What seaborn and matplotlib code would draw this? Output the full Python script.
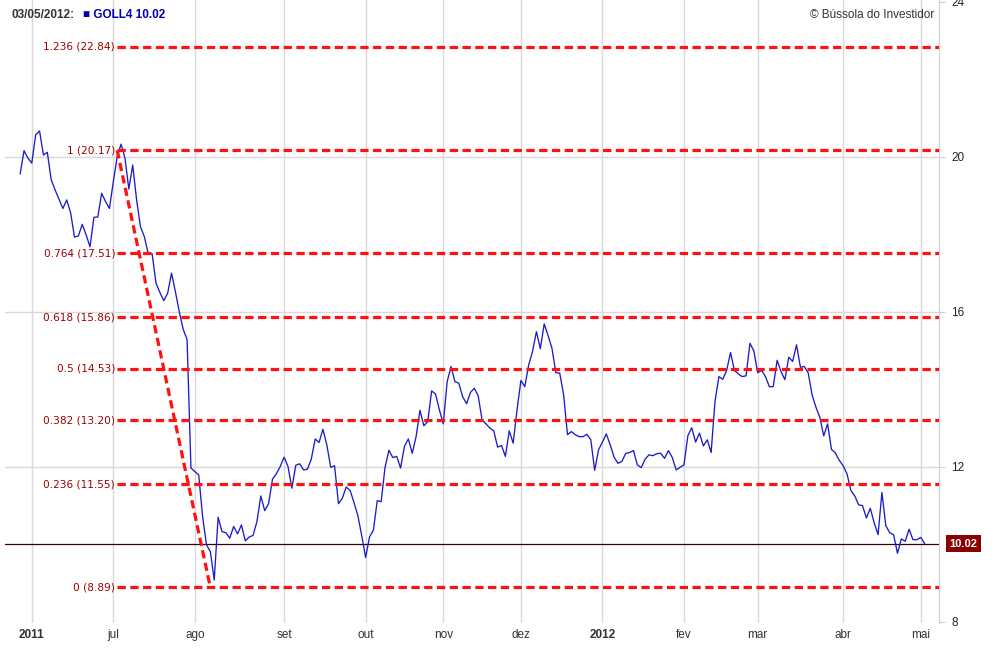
import numpy as np
import pandas as pd
import matplotlib
matplotlib.use("Agg")
import matplotlib.pyplot as plt
import seaborn as sns

# ---------------- data ----------------
holidays = ["2011-06-23", "2011-09-07", "2011-10-12", "2011-11-02", "2011-11-15",
            "2011-12-30", "2012-01-25", "2012-02-20", "2012-02-21", "2012-04-06",
            "2012-05-01"]
start_date = "2011-05-27"
end_date = "2012-05-03"

prices = [
    19.56, 20.16, 19.97, 19.84, 20.57, 20.67, 20.05, 20.12, 19.41, 19.15,
    18.91, 18.67, 18.89, 18.56, 17.93, 17.96, 18.26, 17.99, 17.68, 18.44,
    18.45, 19.06, 18.85, 18.67, 19.36, 20.01, 20.33, 19.97, 19.17, 19.79,
    18.89, 18.20, 17.94, 17.50, 17.50, 16.74, 16.50, 16.29, 16.48, 17.00,
    16.52, 16.00, 15.55, 15.29, 11.97, 11.88, 11.79, 10.72, 9.99, 9.81,
    9.08, 10.70, 10.33, 10.30, 10.16, 10.46, 10.27, 10.50, 10.09, 10.19,
    10.23, 10.59, 11.25, 10.87, 11.05, 11.68, 11.82, 12.01, 12.25, 12.01,
    11.45, 12.04, 12.08, 11.92, 11.94, 12.20, 12.72, 12.63, 12.97, 12.57,
    11.99, 12.03, 11.05, 11.19, 11.48, 11.39, 11.08, 10.74, 10.22, 9.66,
    10.19, 10.37, 11.13, 11.10, 11.99, 12.43, 12.24, 12.27, 11.97, 12.53,
    12.72, 12.35, 12.78, 13.46, 13.06, 13.17, 13.96, 13.88, 13.47, 13.11,
    14.20, 14.59, 14.20, 14.16, 13.81, 13.63, 13.92, 14.03, 13.83, 13.21,
    13.11, 13.00, 12.93, 12.51, 12.55, 12.27, 12.93, 12.61, 13.47, 14.23,
    14.07, 14.63, 14.98, 15.49, 15.05, 15.69, 15.39, 15.06, 14.43, 14.42,
    13.86, 12.83, 12.91, 12.83, 12.78, 12.78, 12.84, 12.70, 11.91, 12.44,
    12.64, 12.85, 12.57, 12.25, 12.09, 12.14, 12.35, 12.37, 12.42, 12.05,
    11.98, 12.20, 12.31, 12.29, 12.34, 12.35, 12.22, 12.42, 12.24, 11.92,
    11.99, 12.05, 12.80, 13.01, 12.64, 12.87, 12.54, 12.70, 12.37, 13.69,
    14.33, 14.26, 14.49, 14.95, 14.49, 14.40, 14.33, 14.35, 15.19, 14.99,
    14.43, 14.49, 14.33, 14.07, 14.07, 14.75, 14.46, 14.25, 14.83, 14.72,
    15.15, 14.57, 14.59, 14.43, 13.86, 13.54, 13.28, 12.80, 13.11, 12.45,
    12.36, 12.17, 12.03, 11.82, 11.39, 11.25, 11.02, 11.00, 10.68, 10.93,
    10.56, 10.25, 11.34, 10.48, 10.30, 10.25, 9.77, 10.14, 10.08, 10.39,
    10.12, 10.12, 10.18, 10.02,
]

month_labels = ["2011", "jul", "ago", "set", "out", "nov", "dez",
                "2012", "fev", "mar", "abr", "mai"]
year_labels = ["2011", "2012"]

fib_ratios = [1.236, 1, 0.764, 0.618, 0.5, 0.382, 0.236, 0]
fib_values = [22.84, 20.17, 17.51, 15.86, 14.53, 13.20, 11.55, 8.89]
swing_high_date = "2011-07-04"
swing_low_date = "2011-08-05"

y_ticks = [8, 12, 16, 20, 24]
y_grid = [12, 16, 20]
ticker = "GOLL4"
last_date_label = "03/05/2012:"
last_price = 10.02
credit = "© Bússola do Investidor"

# ---------------- build frame ----------------
dates = pd.bdate_range(start_date, end_date, freq="C", holidays=holidays)
n = min(len(dates), len(prices))
df = pd.DataFrame({"date": dates[:n], "price": prices[:n]})
df["idx"] = np.arange(n)

# first trading day of each month (from June on)
first_days = df.groupby(df["date"].dt.to_period("M"))["idx"].min()
tick_pos = list(first_days.values[1:1 + len(month_labels)])

hi_idx = int(df.loc[df["date"] == pd.Timestamp(swing_high_date), "idx"].iloc[0])
lo_idx = int(df.loc[df["date"] == pd.Timestamp(swing_low_date), "idx"].iloc[0])

# ---------------- style ----------------
sns.set_style("white")
plt.rcParams["font.family"] = ["Liberation Sans", "DejaVu Sans"]

fig = plt.figure(figsize=(10, 6.5), dpi=100)
ax = fig.add_axes([0.005, 1 - 623 / 650, 0.934, 623 / 650])

x_left, x_right = -3.9, n - 1 + 3.7
ax.set_xlim(x_left, x_right)
ax.set_ylim(7.97, 24.05)

# grid: vertical at month starts, horizontal only at inner price levels
ax.set_xticks(tick_pos)
ax.set_yticks(y_ticks)
ax.grid(True, axis="x", color="#d9d9d9", lw=1, zorder=0)
for g in y_grid:
    ax.axhline(g, color="#d9d9d9", lw=1, zorder=0)

# price line
sns.lineplot(data=df, x="idx", y="price", color="#1c1cc8", lw=0.95, ax=ax,
             zorder=3, legend=False)

# fib levels
red = "#ff1111"
dash = (0, (2.6, 1.4))
for r, v in zip(fib_ratios, fib_values):
    ax.plot([hi_idx, x_right], [v, v], color=red, lw=2.3, linestyle=dash,
            zorder=4, dash_capstyle="butt")
    ax.annotate(f"{r:g} ({v:.2f})", xy=(hi_idx, v), xytext=(-1.5, 0),
                textcoords="offset points", ha="right", va="center",
                fontsize=7.6, color="#a00000", family="DejaVu Sans", zorder=5)
ax.plot([hi_idx, lo_idx], [fib_values[1], fib_values[-1]], color=red, lw=2.3,
        linestyle=dash, zorder=4, dash_capstyle="butt")

# last price line + tag
ax.axhline(last_price, color="#3a0000", lw=0.9, zorder=2)
ax.annotate(f"{last_price:.2f}", xy=(1, last_price),
            xycoords=("axes fraction", "data"), xytext=(7.5, 0),
            textcoords="offset points", ha="left", va="center",
            fontsize=8, fontweight="bold", color="white",
            bbox=dict(boxstyle="square,pad=0.28", fc="#8b0000", ec="none"),
            annotation_clip=False)

# axes cosmetics
ax.set_xlabel("")
ax.set_ylabel("")
for s in ["top", "left", "bottom"]:
    ax.spines[s].set_visible(False)
ax.spines["right"].set_color("#d0d0d0")
ax.yaxis.tick_right()
ax.tick_params(axis="y", length=4, color="#d0d0d0", labelsize=8.5,
               labelcolor="#222222", pad=5)
ax.tick_params(axis="x", length=0, labelsize=8.5, labelcolor="#333333", pad=4)
ax.set_yticklabels([str(t) for t in y_ticks])
ax.set_xticklabels(month_labels)
for lab in ax.get_xticklabels():
    if lab.get_text() in year_labels:
        lab.set_fontweight("bold")

# header texts
fig.text(0.012, 1 - 15 / 650, last_date_label, ha="left", va="center",
         fontsize=8.5, fontweight="bold", color="#333333")
fig.text(0.083, 1 - 15 / 650, f"■ {ticker} {last_price:.2f}", ha="left",
         va="center", fontsize=8.5, fontweight="bold", color="#0000aa")
fig.text(0.934, 1 - 15 / 650, credit, ha="right", va="center",
         fontsize=8.5, color="#333333")

fig.savefig("out.png", dpi=100)
